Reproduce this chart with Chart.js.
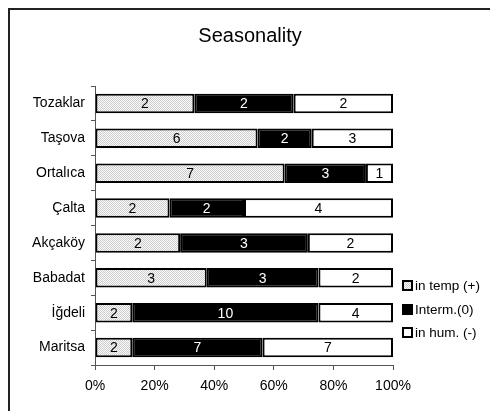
<!DOCTYPE html>
<html>
<head>
<meta charset="utf-8">
<script src="https://cdn.jsdelivr.net/npm/chart.js@4.4.1/dist/chart.umd.min.js"></script>
<style>
  html, body { margin: 0; padding: 0; background: #fff; }
  #wrap { position: absolute; left: 0; top: 0; width: 490px; height: 411px; }
</style>
</head>
<body>
<div id="wrap"><canvas id="chart1"></canvas></div>
<script>
// Seasonality - 100% stacked bars, labels show raw counts

var villages = ['Tozaklar', 'Taşova', 'Ortalıca', 'Çalta', 'Akçaköy', 'Babadat', 'İğdeli', 'Maritsa'];
var inTemp = [2, 6, 7, 2, 2, 3, 2, 2];
var interm = [2, 2, 3, 2, 3, 3, 10, 7];
var inHum = [2, 3, 1, 4, 2, 2, 4, 7];
var seriesNames = ['in temp (+)', 'Interm.(0)', 'in hum. (-)'];
var xTicks = [0, 20, 40, 60, 80, 100];
var chartTitle = 'Seasonality';

var FONT = 'Arial, "Liberation Sans", sans-serif';

function toPct(arr) {
    return arr.map(function (v, i) {
        var total = inTemp[i] + interm[i] + inHum[i];
        return v / total * 100;
    });
}

// little stipple fill for the first series
function makeStipple() {
    var c = document.createElement('canvas');
    c.width = 2; c.height = 2;
    var g = c.getContext('2d');
    g.fillStyle = '#fcfcfc';
    g.fillRect(0, 0, 2, 2);
    g.fillStyle = '#cccccc';
    g.fillRect(0, 0, 1, 1);
    g.fillRect(1, 1, 1, 1);
    return g.createPattern(c, 'repeat');
}

var ctx = document.getElementById('chart1').getContext('2d');
var stipple = makeStipple();

var counts = [inTemp, interm, inHum];
var fills = [stipple, '#000000', '#ffffff'];
var labelColors = ['#000', '#fff', '#000'];

var frame = {
    id: 'frame',
    beforeDraw: function (chart) {
        var c = chart.ctx;
        c.save();
        c.fillStyle = '#fff';
        c.fillRect(0, 0, chart.width, chart.height);
        c.strokeStyle = '#222';
        c.lineWidth = 2;
        c.beginPath();
        c.moveTo(9, chart.height);
        c.lineTo(9, 9);
        c.lineTo(chart.width, 9);
        c.stroke();
        // title, centred on the whole frame
        c.fillStyle = '#000';
        c.font = '20px ' + FONT;
        c.textAlign = 'center';
        c.textBaseline = 'middle';
        c.fillText(chartTitle, 250, 36);
        c.restore();
    }
};

var countLabels = {
    id: 'countLabels',
    afterDatasetsDraw: function (chart) {
        var c = chart.ctx;
        c.save();
        c.font = '14px ' + FONT;
        c.textAlign = 'center';
        c.textBaseline = 'middle';
        chart.data.datasets.forEach(function (ds, di) {
            chart.getDatasetMeta(di).data.forEach(function (bar, i) {
                c.fillStyle = labelColors[di];
                c.fillText(String(counts[di][i]), (bar.x + bar.base) / 2, bar.y + 1);
            });
        });
        c.restore();
    }
};

var sideLegend = {
    id: 'sideLegend',
    afterDraw: function (chart) {
        var c = chart.ctx;
        var x = 403, ys = [286, 310, 333];
        c.save();
        c.font = '13.5px ' + FONT;
        c.textBaseline = 'middle';
        c.textAlign = 'left';
        chart.data.datasets.forEach(function (ds, di) {
            var y = ys[di];
            c.fillStyle = fills[di];
            c.fillRect(x, y - 5, 9, 9);
            c.strokeStyle = '#000';
            c.lineWidth = 2;
            c.strokeRect(x, y - 5, 9, 9);
            c.fillStyle = '#000';
            c.fillText(ds.label, x + 12, y);
        });
        c.restore();
    }
};

new Chart(ctx, {
    type: 'bar',
    data: {
        labels: villages,
        datasets: seriesNames.map(function (name, di) {
            return {
                label: name,
                data: toPct(counts[di]),
                backgroundColor: fills[di],
                borderColor: '#000',
                borderWidth: 2,
                borderSkipped: false,
                barPercentage: 0.56,
                categoryPercentage: 1.0
            };
        })
    },
    options: {
        indexAxis: 'y',
        responsive: true,
        maintainAspectRatio: false,
        animation: false,
        layout: { padding: { left: 10, right: 97, top: 86, bottom: 16 } },
        plugins: {
            legend: { display: false },
            tooltip: { enabled: false },
            title: { display: false }
        },
        scales: {
            x: {
                stacked: true,
                min: 0,
                max: 100,
                afterBuildTicks: function (scale) {
                    scale.ticks = xTicks.map(function (v) { return { value: v }; });
                },
                afterFit: function (scale) { scale.height = 30; },
                ticks: {
                    color: '#000',
                    font: { family: FONT, size: 14 },
                    padding: 8,
                    callback: function (v) { return v + '%'; }
                },
                grid: { drawOnChartArea: false, tickLength: 5, color: '#555' },
                border: { color: '#555', width: 1 }
            },
            y: {
                stacked: true,
                afterFit: function (scale) { scale.width = 85; },
                ticks: {
                    color: '#000',
                    font: { family: FONT, size: 14 },
                    padding: 6
                },
                grid: { offset: true, drawOnChartArea: false, tickLength: 4, color: '#555' },
                border: { color: '#555', width: 1 }
            }
        }
    },
    plugins: [frame, countLabels, sideLegend]
});
</script>
</body>
</html>
